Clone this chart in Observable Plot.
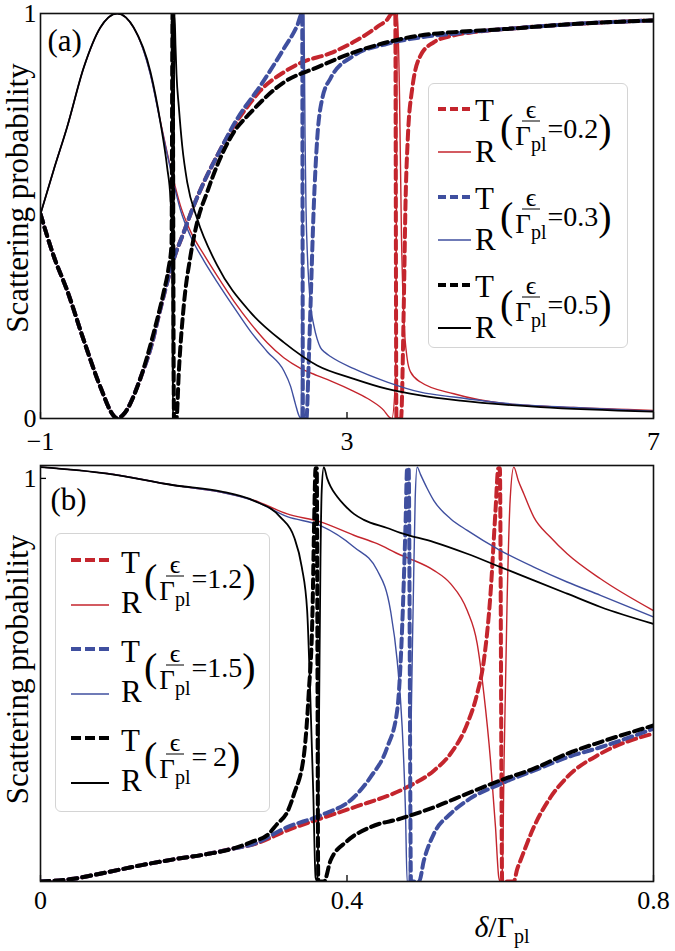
<!DOCTYPE html>
<html>
<head>
<meta charset="utf-8">
<script src="https://cdn.jsdelivr.net/npm/d3@7"></script>
<script src="https://cdn.jsdelivr.net/npm/@observablehq/plot@0.6"></script>
<style>
  html, body { margin: 0; padding: 0; background: #fff; }
  #fig { position: relative; width: 675px; height: 951px; overflow: hidden; font-family: "Liberation Serif", "DejaVu Serif", serif; color: #000; }
  #fig > svg { display: block; }
  #fig svg, #fig svg text, #fig svg g { font-family: "Liberation Serif", "DejaVu Serif", serif !important; }
  .legend { position: absolute; box-sizing: border-box; background: #fff; border: 1.3px solid #d4d4d4; border-radius: 6px; }
  .legend .samp { position: absolute; overflow: visible; }
  .legend .lab { position: absolute; font-size: 31px; line-height: 31px; white-space: nowrap; }
  .legend .fb { position: absolute; display: flex; align-items: center; white-space: nowrap; transform: translateY(-50%); }
  .fb .par { font-size: 40px; line-height: 40px; }
  .fb .frac { display: inline-flex; flex-direction: column; align-items: center; position: relative; margin: 0 1px 0 2px; }
  .fb .num { font-size: 26px; line-height: 22px; padding: 0 4px; border-bottom: 1.3px solid #000; }
  .fb .den { font-size: 27px; line-height: 28px; }
  .fb .den sub, .xlab sub { font-size: 20px; line-height: 0; vertical-align: baseline; position: relative; top: 6px; }
  .fb .eq { font-size: 28px; line-height: 28px; }
  .xlab { position: absolute; font-size: 30px; line-height: 30px; white-space: nowrap; text-align: center; }
</style>
</head>
<body>
<div id="fig"></div>
<script>
// ---------- tick values / labels ----------
const xTicksA = [-1, 3, 7];
const yTicksA = [0, 1];
const xTicksB = [0, 0.4, 0.8];
const yTicksB = [1];
const legendA = ["0.2", "0.3", "0.5"];
const legendB = ["1.2", "1.5", "2"];
const yLabel = "Scattering probability";

// ---------- panel (a): [δ/Γpl, probability] ----------
// ε/Γpl = 0.2
const a_T02 = [[-1.000,0.505],[-0.826,0.40],[-0.652,0.316],[-0.435,0.193],[-0.217,0.077],[-0.047,0.007],[0.001,0.0],[0.083,0.01],[0.305,0.10],[0.475,0.20],[0.523,0.238],[0.631,0.32],[0.740,0.394],[0.870,0.46],[1.001,0.526],[1.131,0.583],[1.306,0.649],[1.567,0.735],[1.741,0.78],[1.871,0.81],[2.175,0.855],[2.393,0.878],[2.785,0.902],[3.089,0.93],[3.307,0.955],[3.394,0.967],[3.525,0.985],[3.59,1.0],[3.63,1.0],[3.645,0.0],[3.705,0.0],[3.741,0.279],[3.763,0.526],[3.793,0.69],[3.851,0.814],[3.959,0.896],[4.133,0.929],[4.394,0.946],[4.651,0.954],[5.091,0.962],[5.956,0.974],[7.0,0.983]];
const a_R02 = [[-1.000,0.505],[-0.826,0.615],[-0.652,0.72],[-0.435,0.867],[-0.217,0.966],[0.001,1.0],[0.214,0.966],[0.436,0.85],[0.566,0.733],[0.697,0.62],[0.827,0.525],[0.958,0.462],[1.131,0.405],[1.306,0.352],[1.523,0.29],[1.741,0.235],[1.959,0.187],[2.175,0.15],[2.393,0.124],[2.611,0.106],[2.785,0.093],[3.089,0.067],[3.307,0.045],[3.480,0.02],[3.547,0.004],[3.585,0.0],[3.633,0.1],[3.659,1.0],[3.685,0.8],[3.711,0.45],[3.741,0.25],[3.786,0.147],[3.829,0.115],[3.959,0.09],[4.394,0.061],[5.091,0.036],[5.956,0.027],[7.0,0.02]];
// ε/Γpl = 0.3
const a_T03 = [[-1.000,0.505],[-0.826,0.40],[-0.652,0.316],[-0.435,0.193],[-0.217,0.077],[-0.047,0.007],[0.001,0.0],[0.083,0.01],[0.305,0.10],[0.475,0.20],[0.523,0.238],[0.631,0.32],[0.740,0.394],[0.870,0.46],[1.001,0.526],[1.131,0.583],[1.306,0.649],[1.567,0.74],[1.871,0.822],[2.175,0.913],[2.350,0.970],[2.415,1.0],[2.425,0.0],[2.471,0.0],[2.497,0.12],[2.524,0.279],[2.567,0.526],[2.611,0.69],[2.676,0.789],[2.785,0.84],[3.089,0.896],[3.525,0.925],[3.959,0.941],[4.394,0.95],[5.091,0.962],[5.956,0.974],[7.0,0.983]];
const a_R03 = [[-1.000,0.505],[-0.826,0.615],[-0.652,0.72],[-0.435,0.867],[-0.217,0.966],[0.001,1.0],[0.214,0.966],[0.436,0.848],[0.566,0.73],[0.697,0.615],[0.827,0.515],[0.958,0.45],[1.131,0.39],[1.306,0.337],[1.523,0.275],[1.741,0.215],[1.959,0.165],[2.175,0.118],[2.263,0.08],[2.328,0.035],[2.371,0.008],[2.399,0.0],[2.438,1.0],[2.452,0.7],[2.465,0.52],[2.484,0.40],[2.502,0.335],[2.524,0.28],[2.567,0.23],[2.611,0.196],[2.654,0.175],[2.72,0.162],[2.785,0.153],[3.089,0.123],[3.525,0.09],[3.959,0.065],[4.394,0.053],[5.091,0.037],[5.956,0.027],[7.0,0.018]];
// ε/Γpl = 0.5
const a_T05 = [[-1.000,0.505],[-0.826,0.40],[-0.652,0.316],[-0.435,0.193],[-0.217,0.077],[-0.047,0.007],[0.001,0.0],[0.083,0.01],[0.305,0.10],[0.475,0.21],[0.605,0.31],[0.670,0.37],[0.710,0.43],[0.723,1.0],[0.742,0.0],[0.775,0.0],[0.805,0.114],[0.870,0.279],[0.958,0.402],[1.045,0.485],[1.175,0.559],[1.306,0.625],[1.523,0.707],[1.741,0.755],[2.175,0.83],[2.611,0.867],[3.089,0.904],[3.525,0.929],[3.959,0.946],[4.394,0.954],[5.091,0.962],[5.956,0.974],[7.0,0.983]];
const a_R05 = [[-1.000,0.505],[-0.826,0.615],[-0.652,0.72],[-0.435,0.867],[-0.217,0.966],[0.001,1.0],[0.214,0.966],[0.436,0.855],[0.566,0.73],[0.653,0.62],[0.697,0.54],[0.716,0.45],[0.729,0.0],[0.749,1.0],[0.762,0.92],[0.775,0.85],[0.805,0.77],[0.849,0.674],[0.915,0.583],[1.045,0.493],[1.306,0.378],[1.741,0.262],[2.175,0.188],[2.611,0.131],[3.089,0.098],[3.525,0.073],[3.959,0.057],[4.481,0.044],[5.525,0.028],[7.0,0.017]];

// ---------- panel (b) ----------
// ε/Γpl = 1.2
const b_T12 = [[0,0],[0.0435,0.007],[0.087,0.023],[0.1305,0.04],[0.174,0.055],[0.2175,0.068],[0.252,0.082],[0.278,0.092],[0.322,0.127],[0.3654,0.156],[0.409,0.184],[0.474,0.23],[0.5133,0.275],[0.5351,0.317],[0.5569,0.391],[0.5699,0.466],[0.5786,0.548],[0.5873,0.714],[0.5938,0.92],[0.5975,1.025],[0.5995,1.025],[0.6025,0.0],[0.6177,0.0],[0.622,0.03],[0.6264,0.052],[0.6438,0.135],[0.6656,0.209],[0.6873,0.259],[0.7308,0.317],[0.8,0.367]];
const b_R12 = [[0,1.028],[0.087,1.012],[0.174,0.983],[0.235,0.966],[0.278,0.946],[0.322,0.912],[0.3654,0.892],[0.409,0.859],[0.4394,0.838],[0.4698,0.81],[0.4829,0.80],[0.5133,0.772],[0.5351,0.739],[0.5569,0.672],[0.5699,0.59],[0.5786,0.466],[0.5873,0.30],[0.5938,0.135],[0.5981,0.01],[0.600,0.0],[0.6025,0.0],[0.605,0.3],[0.609,0.7],[0.613,0.95],[0.6177,1.028],[0.6235,0.995],[0.6307,0.962],[0.6438,0.904],[0.6656,0.854],[0.6873,0.813],[0.7308,0.751],[0.8,0.672]];
// ε/Γpl = 1.5
const b_T15 = [[0,0],[0.0435,0.007],[0.087,0.023],[0.1305,0.04],[0.174,0.055],[0.2175,0.068],[0.252,0.082],[0.278,0.093],[0.322,0.135],[0.3654,0.164],[0.409,0.209],[0.4307,0.259],[0.4525,0.333],[0.4655,0.424],[0.472,0.631],[0.4763,0.879],[0.4785,1.025],[0.4805,1.025],[0.4835,0.0],[0.494,0.0],[0.5003,0.052],[0.5133,0.118],[0.5351,0.168],[0.5569,0.201],[0.6003,0.242],[0.6438,0.275],[0.6873,0.308],[0.7308,0.333],[0.8,0.379]];
const b_R15 = [[0,1.028],[0.087,1.012],[0.174,0.983],[0.235,0.966],[0.278,0.945],[0.322,0.905],[0.3654,0.883],[0.409,0.83],[0.4394,0.772],[0.4568,0.672],[0.4655,0.548],[0.472,0.383],[0.4763,0.176],[0.4785,0.0],[0.481,0.0],[0.4829,0.3],[0.4865,0.7],[0.489,0.95],[0.4916,1.028],[0.4959,1.01],[0.5047,0.975],[0.5133,0.945],[0.5351,0.90],[0.5569,0.871],[0.6003,0.821],[0.6438,0.78],[0.6873,0.743],[0.7308,0.71],[0.8,0.656]];
// ε/Γpl = 2
const b_T2 = [[0,0],[0.0435,0.007],[0.087,0.023],[0.1305,0.04],[0.174,0.055],[0.2175,0.068],[0.252,0.082],[0.278,0.10],[0.296,0.115],[0.309,0.143],[0.322,0.172],[0.331,0.218],[0.344,0.317],[0.350,0.466],[0.355,0.672],[0.357,0.879],[0.359,1.025],[0.3605,1.025],[0.3625,0.0],[0.370,0.0],[0.3785,0.052],[0.400,0.10],[0.4307,0.135],[0.4698,0.156],[0.5133,0.184],[0.5569,0.218],[0.6003,0.251],[0.6438,0.28],[0.6873,0.317],[0.7308,0.346],[0.8,0.387]];
const b_R2 = [[0,1.028],[0.087,1.012],[0.174,0.983],[0.235,0.968],[0.278,0.945],[0.313,0.904],[0.331,0.854],[0.341,0.78],[0.348,0.672],[0.352,0.466],[0.356,0.218],[0.359,0.01],[0.3615,0.0],[0.3635,0.4],[0.3654,0.8],[0.367,0.97],[0.3697,1.028],[0.3741,1.0],[0.3785,0.98],[0.387,0.955],[0.396,0.935],[0.409,0.912],[0.422,0.897],[0.4525,0.877],[0.4698,0.865],[0.5133,0.842],[0.5569,0.813],[0.6003,0.78],[0.6438,0.747],[0.6873,0.714],[0.7308,0.681],[0.8,0.639]];

// ---------- styles ----------
const RED = "#c4252d", BLUE = "#3f4f9f", BLACK = "#000000";
const FONT = '"Liberation Serif", "DejaVu Serif", serif';
const W = 675;

const seriesA = [
  {data: a_T02, color: RED, dash: true}, {data: a_R02, color: RED},
  {data: a_T03, color: BLUE, dash: true}, {data: a_R03, color: BLUE},
  {data: a_T05, color: BLACK, dash: true}, {data: a_R05, color: BLACK}
];
const seriesB = [
  {data: b_T12, color: RED, dash: true}, {data: b_R12, color: RED},
  {data: b_T15, color: BLUE, dash: true}, {data: b_R15, color: BLUE},
  {data: b_T2, color: BLACK, dash: true}, {data: b_R2, color: BLACK}
];

function lineMarks(series) {
  return series.map(s => Plot.line(s.data, {
    x: d => d[0], y: d => d[1],
    stroke: s.color,
    strokeWidth: s.dash ? 4 : (s.color === BLACK ? 1.8 : 1.4),
    strokeDasharray: s.dash ? "9,5" : null,
    curve: "monotone-x",
    clip: true
  }));
}

const fig = document.getElementById("fig");

// ---------- panel (a) ----------
const hA = 460, mtA = 13, mbA = 42, ml = 40, mr = 22;
const plotA = Plot.plot({
  width: W, height: hA, marginLeft: ml, marginRight: mr, marginTop: mtA, marginBottom: mbA,
  style: {fontFamily: FONT, fontSize: "26px", background: "white", color: "black"},
  x: {domain: [-1, 7]},
  y: {domain: [0, 1]},
  marks: [
    ...lineMarks(seriesA),
    Plot.axisX({ticks: xTicksA, tickSize: 0, tickPadding: 13, label: null, fontSize: 26, fontFamily: FONT,
      tickFormat: d => d < 0 ? "\u2212" + Math.abs(d) : String(d)}),
    Plot.axisY({ticks: yTicksA, tickSize: 0, tickPadding: 4, label: null, fontSize: 26, fontFamily: FONT, tickFormat: d => String(d)}),
    Plot.tickX(xTicksA, {x: d => d, insetTop: hA - mtA - mbA - 6, stroke: "#000", strokeWidth: 1.3}),
    Plot.frame({stroke: "#111", strokeWidth: 1.6}),
    Plot.text(["(a)"], {text: d => d, frameAnchor: "top-left", dx: 7, dy: 15, textAnchor: "start", lineAnchor: "top", fontSize: 31, fontFamily: FONT}),
    Plot.text([yLabel], {text: d => d, frameAnchor: "left", textAnchor: "middle", rotate: -90, dx: -22, dy: -18, fontSize: 31, fontFamily: FONT})
  ]
});
fig.appendChild(plotA);

// ---------- panel (b) ----------
const hB = 491, mtB = 5, mbB = 70;
const plotB = Plot.plot({
  width: W, height: hB, marginLeft: ml, marginRight: mr, marginTop: mtB, marginBottom: mbB,
  style: {fontFamily: FONT, fontSize: "26px", background: "white", color: "black"},
  x: {domain: [0, 0.8]},
  y: {domain: [0, 1.032]},
  marks: [
    ...lineMarks(seriesB),
    Plot.axisX({ticks: xTicksB, tickSize: 0, tickPadding: 9, label: null, fontSize: 26, fontFamily: FONT,
      tickFormat: d => d === 0 ? "0" : d.toFixed(1)}),
    Plot.axisY({ticks: yTicksB, tickSize: 0, tickPadding: 4, label: null, fontSize: 26, fontFamily: FONT, tickFormat: d => String(d)}),
    Plot.tickX(xTicksB, {x: d => d, insetTop: hB - mtB - mbB - 6, stroke: "#000", strokeWidth: 1.3}),
    Plot.tickY(yTicksB, {y: d => d, insetRight: W - ml - mr - 6, stroke: "#000", strokeWidth: 1.3}),
    Plot.frame({stroke: "#111", strokeWidth: 1.6}),
    Plot.text(["(b)"], {text: d => d, frameAnchor: "top-left", dx: 10, dy: 22, textAnchor: "start", lineAnchor: "top", fontSize: 31, fontFamily: FONT}),
    Plot.text([yLabel], {text: d => d, frameAnchor: "left", textAnchor: "middle", rotate: -90, dx: -22, dy: -4, fontSize: 31, fontFamily: FONT})
  ]
});
fig.appendChild(plotB);

// ---------- legends (HTML overlays) ----------
function buildLegend(cfg) {
  const box = document.createElement("div");
  box.className = "legend";
  Object.assign(box.style, {left: cfg.left + "px", top: cfg.top + "px", width: cfg.w + "px", height: cfg.h + "px"});
  const colors = [RED, BLUE, BLACK];
  cfg.labels.forEach((lab, i) => {
    const tY = cfg.t0 + cfg.step * i;
    const rY = tY + cfg.gap;
    const len = cfg.lx1 - cfg.lx0;
    box.insertAdjacentHTML("beforeend",
      `<svg class="samp" style="left:${cfg.lx0}px;top:${tY + cfg.dashDy - 4}px" width="${len}" height="8">` +
      `<line x1="0" x2="${len}" y1="4" y2="4" stroke="${colors[i]}" stroke-width="4" stroke-dasharray="${cfg.dash}"/></svg>` +
      `<svg class="samp" style="left:${cfg.lx0}px;top:${rY + cfg.solidDy - 4}px" width="${len}" height="8">` +
      `<line x1="0" x2="${len}" y1="4" y2="4" stroke="${colors[i]}" stroke-width="${colors[i] === BLACK ? 1.8 : 1.5}"/></svg>` +
      `<div class="lab" style="left:${cfg.tx}px;top:${tY - 16}px">T</div>` +
      `<div class="lab" style="left:${cfg.tx}px;top:${rY - 16}px">R</div>` +
      `<div class="fb" style="left:${cfg.fx}px;top:${tY + cfg.fDy}px">` +
        `<span class="par">(</span>` +
        `<span class="frac" style="top:${cfg.fracShift}px"><span class="num">\u03F5</span><span class="den">\u0393<sub>pl</sub></span></span>` +
        `<span class="eq">=${lab}</span>` +
        `<span class="par">)</span>` +
      `</div>`);
  });
  fig.appendChild(box);
}

buildLegend({left: 428, top: 83, w: 200, h: 265, labels: legendA,
  t0: 27, step: 88, gap: 41, lx0: 9, lx1: 42, dash: "8,4", dashDy: -2, solidDy: 0,
  tx: 46, fx: 71, fDy: 17, fracShift: -4});
buildLegend({left: 55, top: 533, w: 215, h: 279, labels: legendB.map(s => s === "2" ? "\u20092" : s),
  t0: 29, step: 89, gap: 40, lx0: 15, lx1: 53, dash: "10,4", dashDy: -3, solidDy: 2,
  tx: 65, fx: 88, fDy: 15, fracShift: 1});

// ---------- x-axis title ----------
fig.insertAdjacentHTML("beforeend",
  `<div class="xlab" style="left:402px;top:912px;width:200px"><i>\u03B4</i>/\u0393<sub>pl</sub></div>`);
</script>
</body>
</html>
